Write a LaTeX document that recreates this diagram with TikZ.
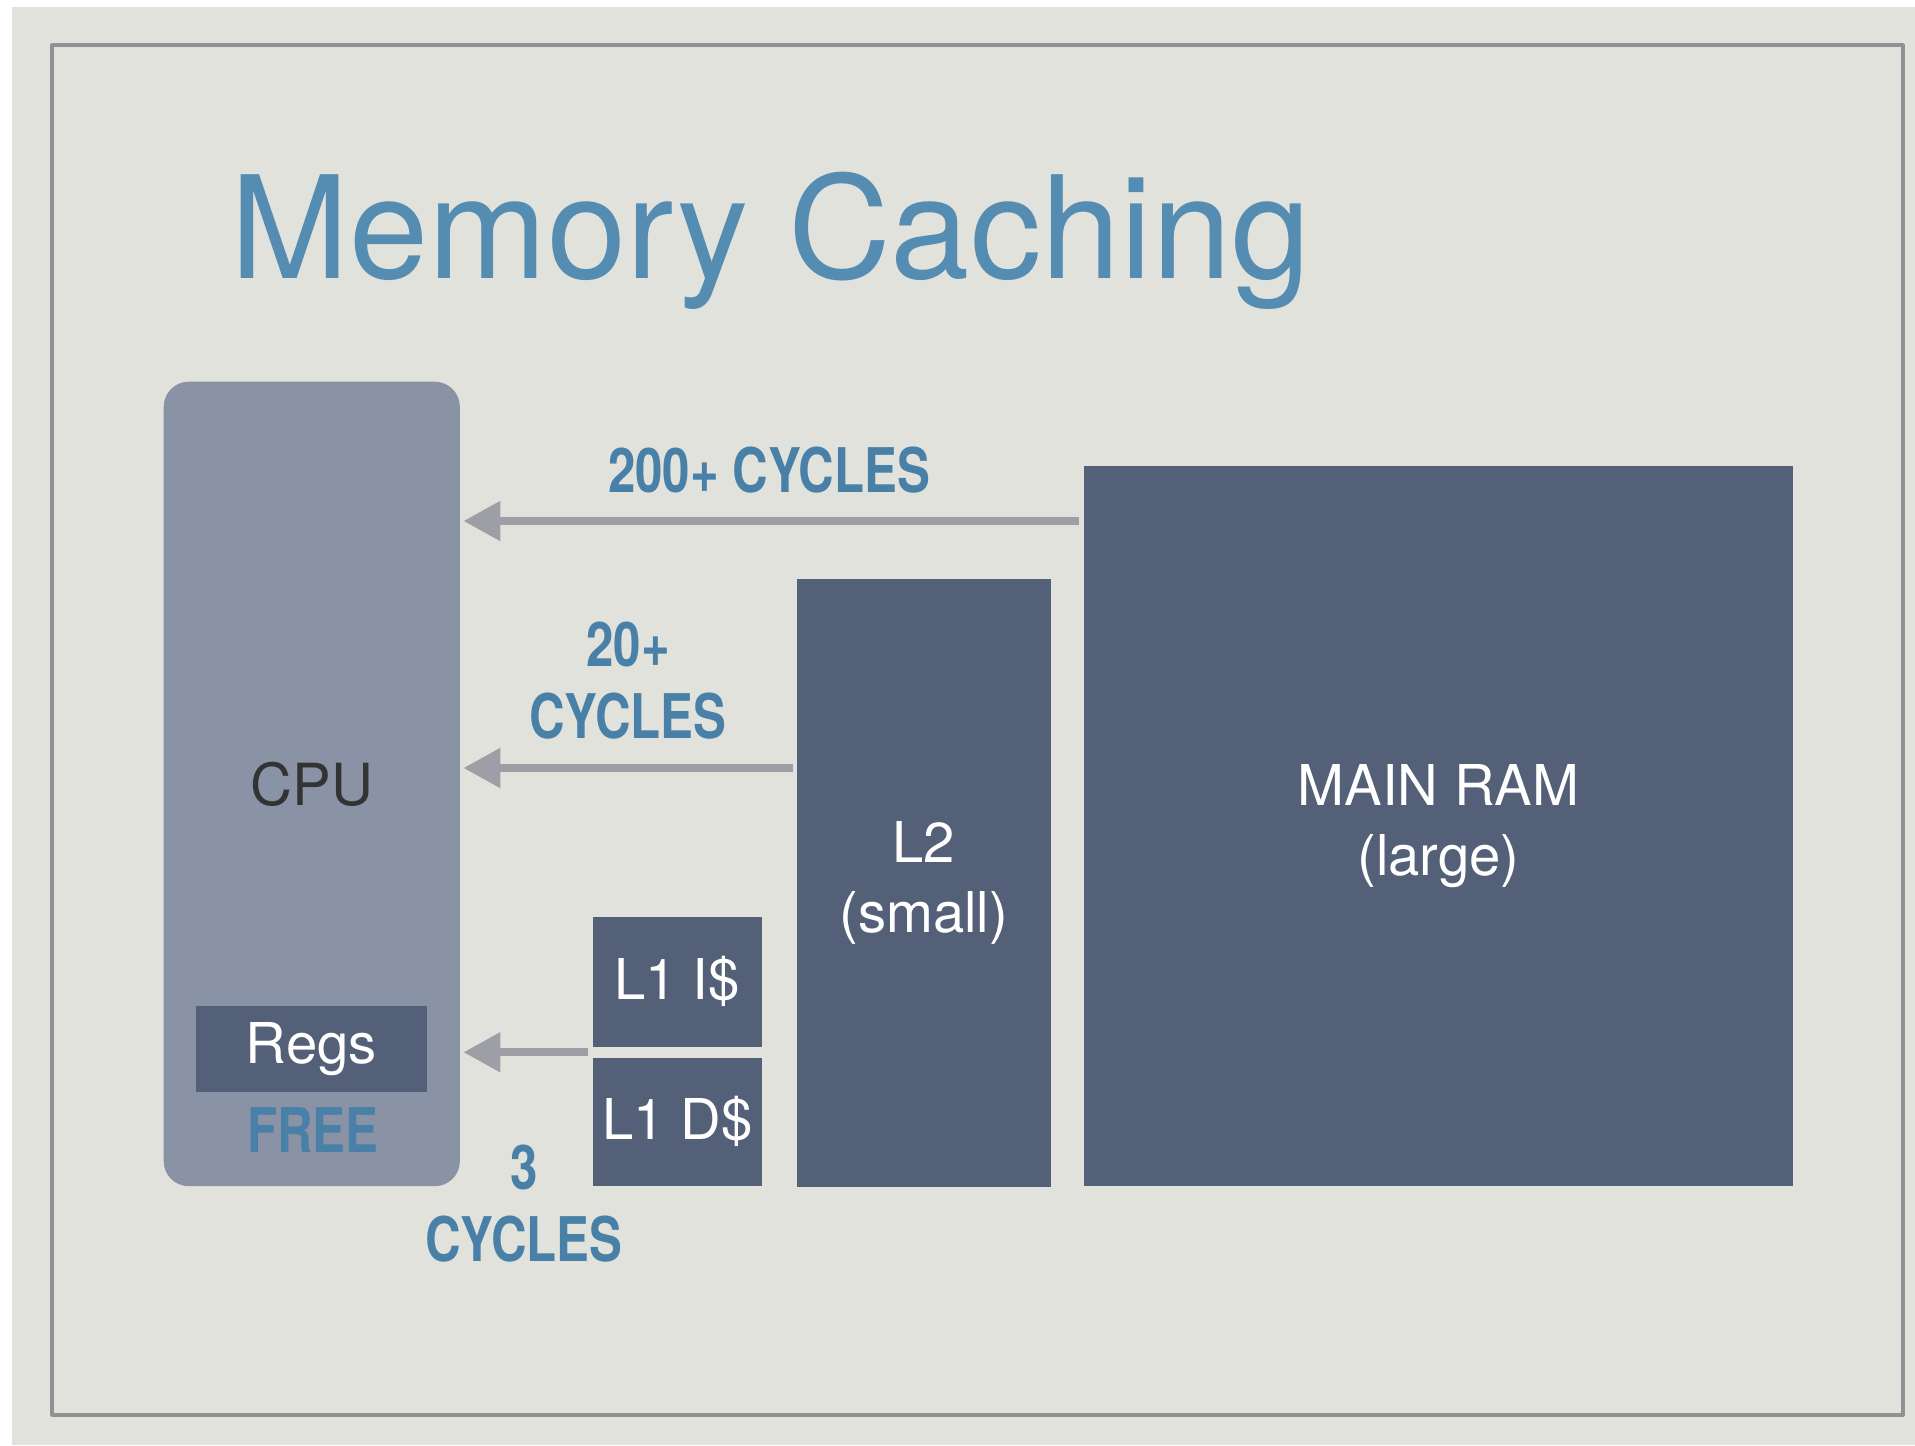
\documentclass[tikz,border=0pt]{standalone}
\usepackage{fontspec}
\setmainfont{TeX Gyre Heros}
\newfontfamily\narrowfont[FakeStretch=0.8]{TeX Gyre Heros}
\usepackage{tikz}
\usetikzlibrary{arrows.meta,calc}
\definecolor{slide}{RGB}{226,226,220}
\definecolor{rim}{RGB}{145,145,148}
\definecolor{cpufill}{RGB}{138,146,166}
\definecolor{memfill}{RGB}{84,95,120}
\definecolor{wire}{RGB}{158,158,166}
\definecolor{titleblue}{RGB}{84,140,178}
\definecolor{cycblue}{RGB}{72,128,168}

\begin{document}
\begin{tikzpicture}[x=0.01cm,y=-0.01cm,line join=round,
  mem/.style={fill=memfill,anchor=north west,inner sep=0pt,text=white,align=center,
    font=\fontsize{16}{20}\selectfont},
  cyc/.style={text=cycblue,align=center,inner sep=0pt,
    font=\narrowfont\bfseries\fontsize{17.5}{20.5}\selectfont},
  feed/.style={wire,line width=2.3pt,-{Triangle[length=10.5pt,width=10.8pt]},shorten >=0.8pt}]
  \useasboundingbox (0,0) rectangle (1915,1445);
  % slide background and frame
  \fill[white] (0,0) rectangle (1915,1445);
  \fill[slide] (12,7) rectangle (1915,1445);
  \draw[rim,line width=0.9pt] (52,45) rectangle (1903,1415);
  \node[anchor=base west,inner sep=0pt,text=titleblue,font=\fontsize{40.5}{48}\selectfont]
    (title) at (230,278) {Memory Caching};
  % processor
  \node[fill=cpufill,rounded corners=0.25cm,anchor=north west,inner sep=0pt,
    minimum width=2.96cm,minimum height=8.04cm,text={black!80},
    font=\fontsize{16.5}{20}\selectfont] (cpu) at (163,381) {CPU};
  \node[mem,minimum width=2.31cm,minimum height=0.86cm] (regs) at (195,1005) {Regs};
  \node[cyc] (free) at (313,1130) {FREE};
  % memory levels
  \node[mem,minimum width=1.69cm,minimum height=1.30cm] (l1i) at (592,916) {L1 I\$};
  \node[mem,minimum width=1.69cm,minimum height=1.28cm] (l1d) at (592,1057) {L1 D\$};
  \node[mem,minimum width=2.54cm,minimum height=6.08cm] (l2) at (796,578) {L2\\(small)};
  \node[mem,minimum width=7.09cm,minimum height=7.20cm] (ram) at (1083,465) {MAIN RAM\\(large)};
  % latencies
  \coordinate (ramout) at ([shift={(-4,56)}]ram.north west);
  \coordinate (l2out) at ([shift={(-3,190)}]l2.north west);
  \coordinate (l1out) at ($(l1i.south west)!0.5!(l1d.north west)+(-4,0)$);
  \draw[feed] (ramout) -- (cpu.east |- ramout);
  \draw[feed] (l2out) -- (cpu.east |- l2out);
  \draw[feed] (l1out) -- (cpu.east |- l1out);
  \node[cyc] (lbl200) at (769,470) {200+ CYCLES};
  \node[cyc] (lbl20) at (628,681) {20+\\CYCLES};
  \node[cyc] (lbl3) at (524,1204) {3\\CYCLES};
\end{tikzpicture}
\end{document}
